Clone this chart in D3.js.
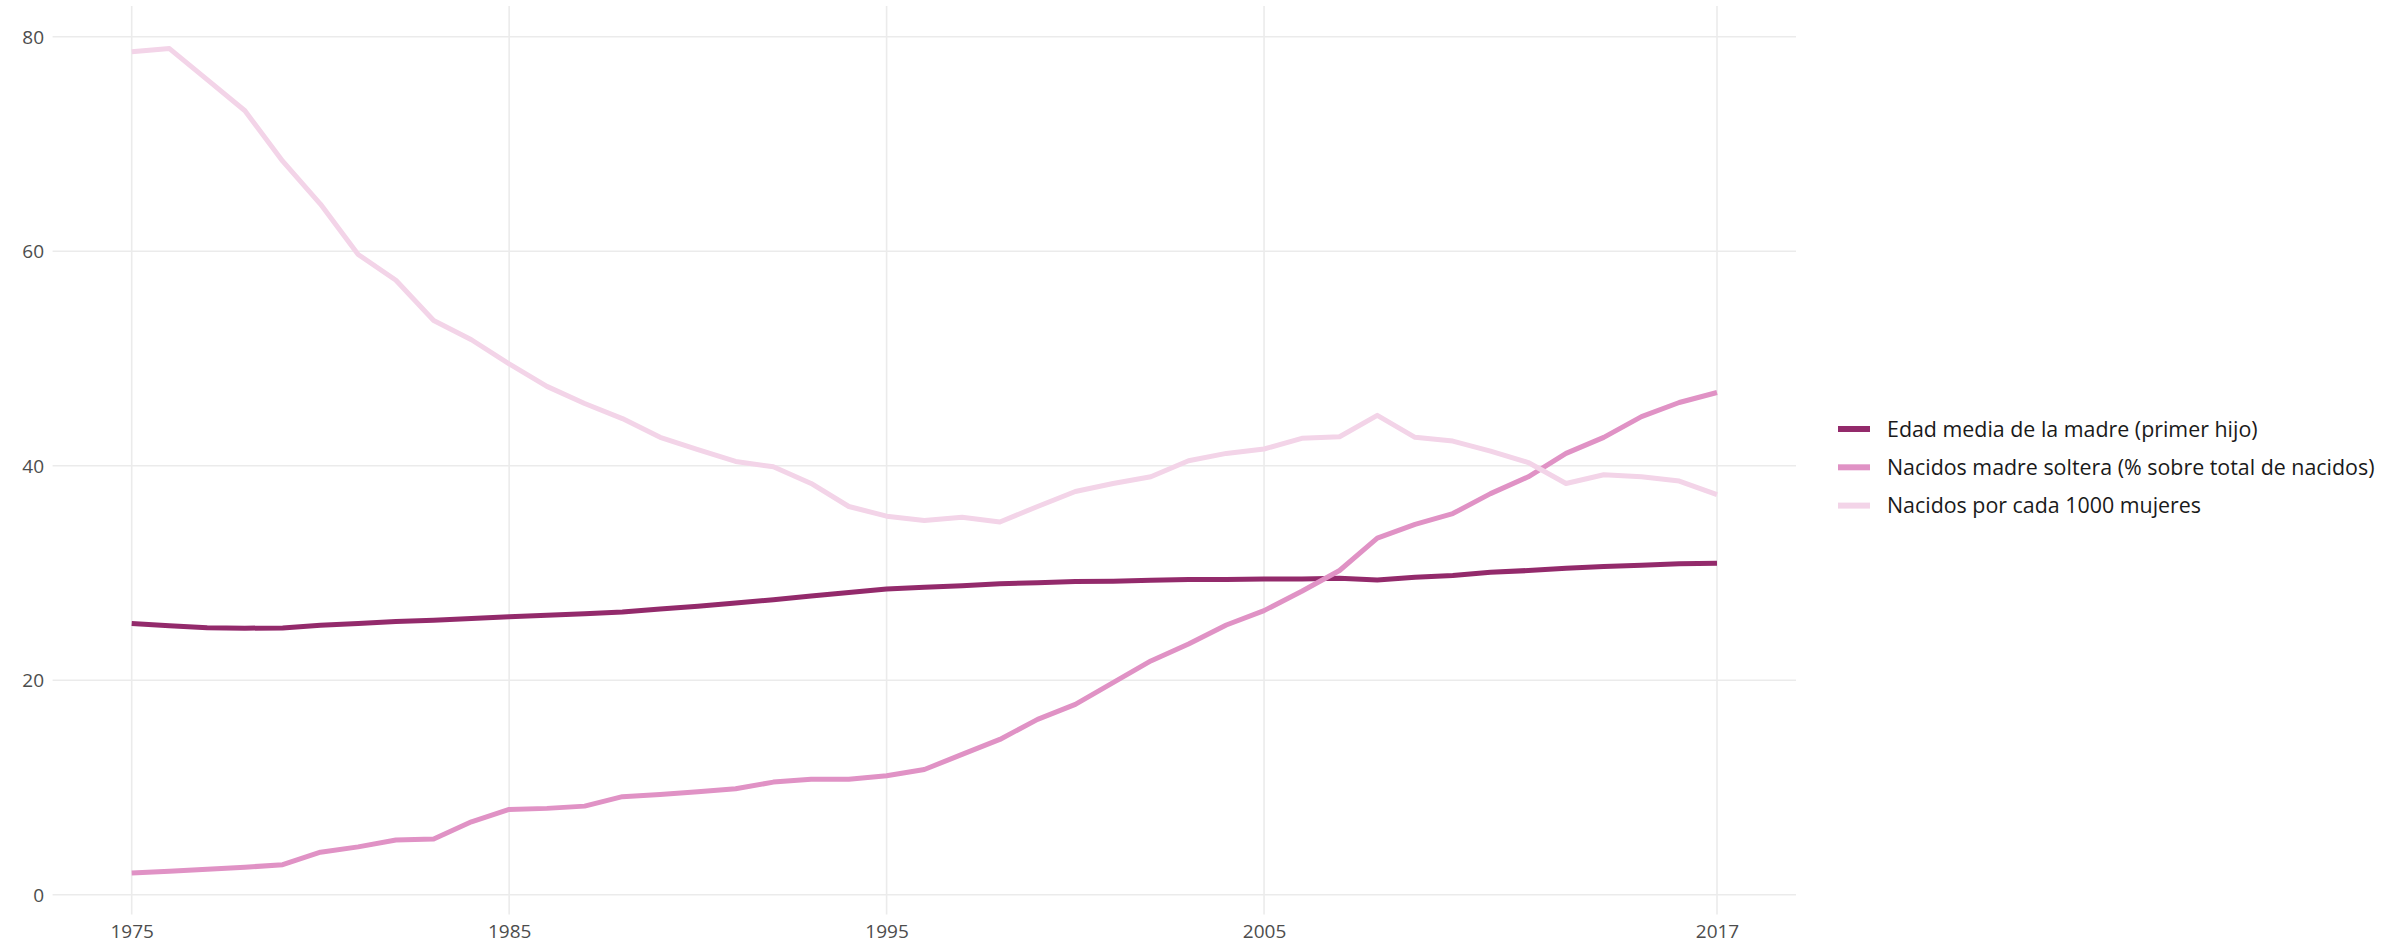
<!DOCTYPE html>
<html>
<head>
<meta charset="utf-8">
<script src="https://cdn.jsdelivr.net/npm/d3@7"></script>
<style>
  body { margin: 0; background: #fff; }
  svg { display: block; }
</style>
</head>
<body>
<div id="chart"></div>
<script>
'use strict';

// data
var years = d3.range(1975, 2018);

var edadMedia = [25.3, 25.07, 24.9, 24.85, 24.88, 25.13, 25.3, 25.47, 25.6, 25.75,
  25.93, 26.06, 26.2, 26.37, 26.65, 26.9, 27.2, 27.5, 27.86, 28.17,
  28.5, 28.67, 28.82, 29.0, 29.1, 29.2, 29.23, 29.32, 29.39, 29.39,
  29.45, 29.45, 29.5, 29.35, 29.6, 29.76, 30.07, 30.23, 30.44, 30.6,
  30.73, 30.85, 30.91];

var madreSoltera = [2.03, 2.18, 2.37, 2.56, 2.8, 3.96, 4.46, 5.1, 5.2, 6.8,
  7.95, 8.05, 8.26, 9.14, 9.35, 9.6, 9.88, 10.5, 10.76, 10.76,
  11.1, 11.67, 13.08, 14.48, 16.35, 17.75, 19.78, 21.8, 23.37, 25.15,
  26.49, 28.3, 30.23, 33.25, 34.54, 35.54, 37.4, 38.97, 41.15, 42.65,
  44.58, 45.9, 46.83];

var nacidos1000 = [78.6, 78.9, 76.0, 73.1, 68.4, 64.4, 59.7, 57.3, 53.55, 51.75,
  49.5, 47.4, 45.8, 44.4, 42.65, 41.5, 40.4, 39.9, 38.35, 36.2,
  35.3, 34.9, 35.2, 34.76, 36.2, 37.6, 38.35, 38.97, 40.47, 41.15,
  41.56, 42.56, 42.7, 44.7, 42.65, 42.3, 41.37, 40.3, 38.35, 39.16,
  38.97, 38.57, 37.3];

var seriesNames = ['Edad media de la madre (primer hijo)',
  'Nacidos madre soltera (% sobre total de nacidos)',
  'Nacidos por cada 1000 mujeres'];
var seriesValues = [edadMedia, madreSoltera, nacidos1000];
var seriesColors = ['#932a6b', '#e092c5', '#f3d4e8'];

var xTicks = [1975, 1985, 1995, 2005, 2017];
var yTicks = [0, 20, 40, 60, 80];

// svg and panel
var width = 2402, height = 945;
var panel = {left: 52.6, right: 1796, top: 6, bottom: 914.5};
var font = '"Open Sans", Lato, sans-serif';

var svg = d3.select('#chart').append('svg')
  .attr('width', width)
  .attr('height', height);

var xScale = d3.scaleLinear()
  .domain([1975, 2017])
  .range([131.7, 1717]);

var yScale = d3.scaleLinear()
  .domain([0, 80])
  .range([894.7, 36.8]);

// grid
svg.selectAll('.hgrid')
    .data(yTicks)
  .enter().append('line')
    .attr('class', 'hgrid')
    .attr('x1', panel.left)
    .attr('x2', panel.right)
    .attr('y1', yScale)
    .attr('y2', yScale)
    .attr('stroke', '#ebebeb')
    .attr('stroke-width', 1.6);

svg.selectAll('.vgrid')
    .data(xTicks)
  .enter().append('line')
    .attr('class', 'vgrid')
    .attr('x1', xScale)
    .attr('x2', xScale)
    .attr('y1', panel.top)
    .attr('y2', panel.bottom)
    .attr('stroke', '#ebebeb')
    .attr('stroke-width', 1.6);

// axes (no domain line, no ticks, just labels)
var xAxis = d3.axisBottom(xScale)
  .tickValues(xTicks)
  .tickFormat(d3.format('d'))
  .tickSize(0)
  .tickPadding(0);

var yAxis = d3.axisLeft(yScale)
  .tickValues(yTicks)
  .tickSize(0)
  .tickPadding(0);

var gx = svg.append('g')
  .attr('transform', 'translate(0,' + 931 + ')')
  .call(xAxis);

var gy = svg.append('g')
  .attr('transform', 'translate(' + 44 + ',0)')
  .call(yAxis);

[gx, gy].forEach(function(g){
  g.select('.domain').remove();
  g.selectAll('text')
    .attr('fill', '#4d4d4d')
    .style('font-family', font)
    .style('font-size', '19px');
});
gy.selectAll('text').attr('dy', '0.35em');
gx.selectAll('text').attr('dy', '0.35em');

// lines
var line = d3.line()
  .x(function(d, i){ return xScale(years[i]); })
  .y(function(d){ return yScale(d); });

svg.selectAll('.series')
    .data(seriesValues)
  .enter().append('path')
    .attr('class', 'series')
    .attr('fill', 'none')
    .attr('stroke', function(d, i){ return seriesColors[i]; })
    .attr('stroke-width', 5)
    .attr('stroke-linejoin', 'round')
    .attr('d', line);

// legend
var legend = svg.append('g')
  .attr('transform', 'translate(1838,429)');

var rows = legend.selectAll('.row')
    .data(seriesNames)
  .enter().append('g')
    .attr('class', 'row')
    .attr('transform', function(d, i){ return 'translate(0,' + (i * 38.3) + ')'; });

rows.append('line')
  .attr('x1', 0)
  .attr('x2', 32)
  .attr('y1', 0)
  .attr('y2', 0)
  .attr('stroke', function(d, i){ return seriesColors[i]; })
  .attr('stroke-width', 6);

rows.append('text')
  .attr('x', 49)
  .attr('y', 0)
  .attr('dy', '0.35em')
  .attr('fill', '#1a1a1a')
  .style('font-family', font)
  .style('font-size', '21.4px')
  .text(function(d){ return d; });
</script>
</body>
</html>
